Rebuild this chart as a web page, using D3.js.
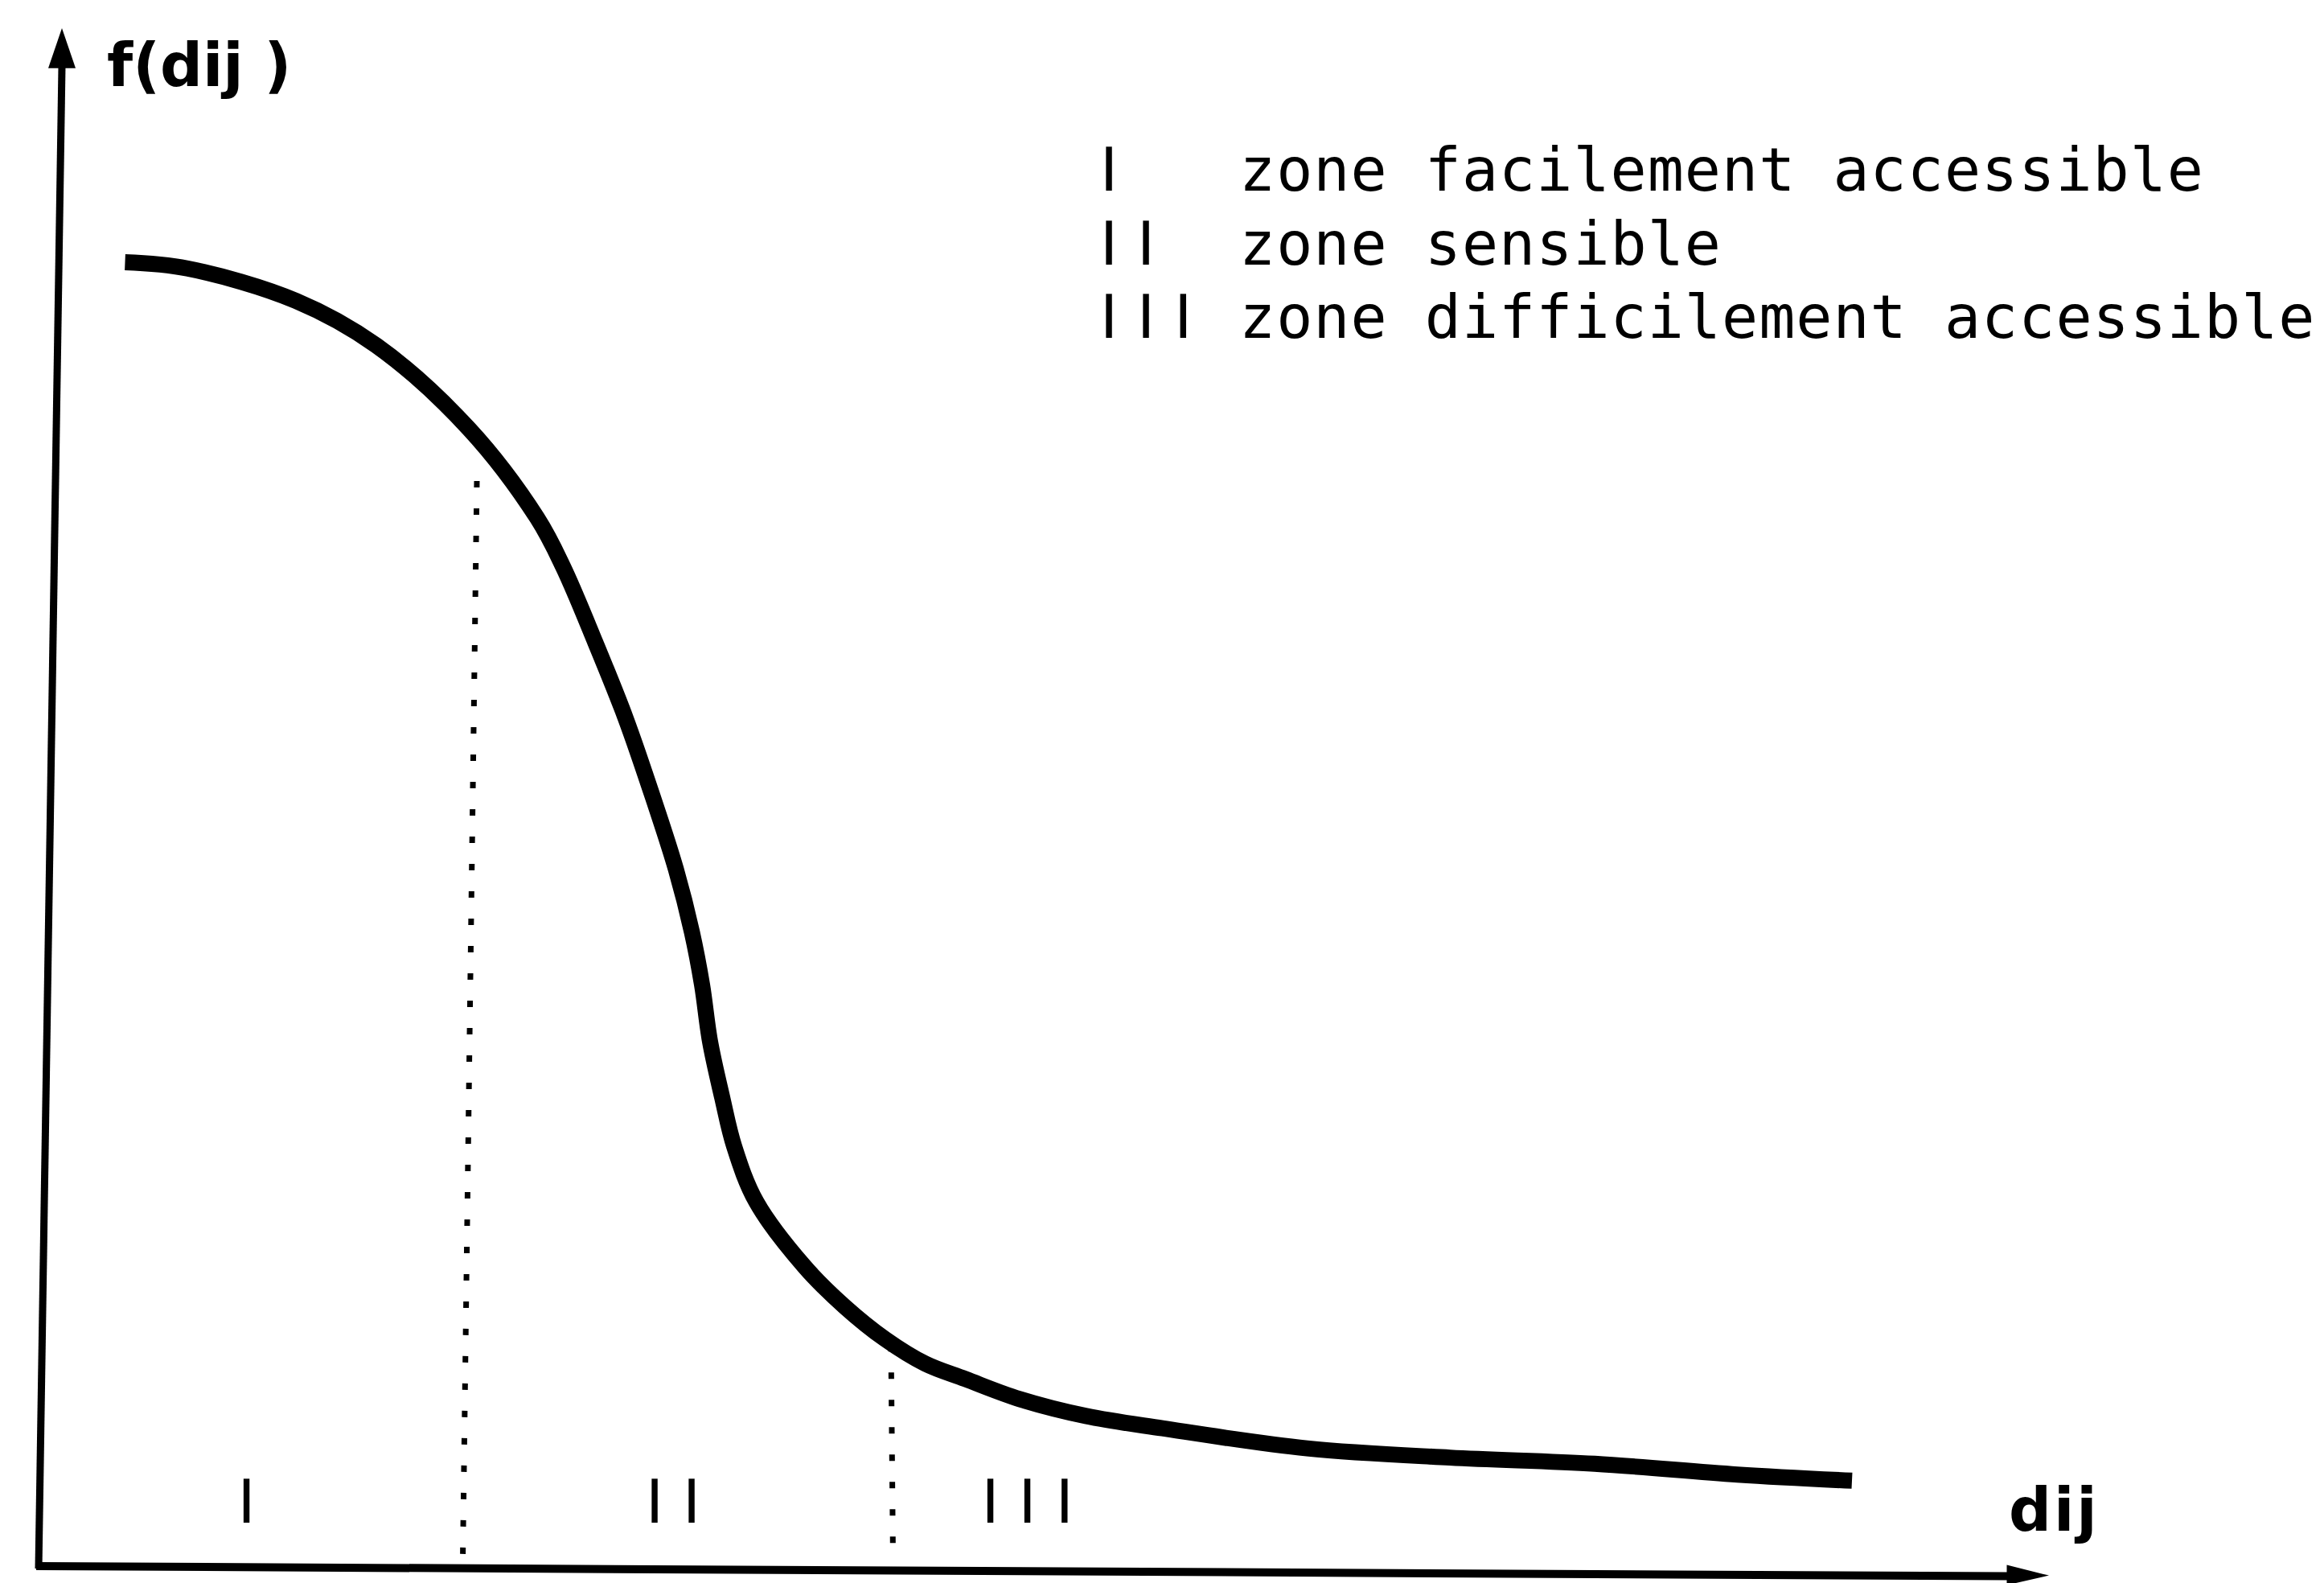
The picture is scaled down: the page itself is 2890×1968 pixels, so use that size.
<!DOCTYPE html>
<html>
<head>
<meta charset="utf-8">
<script src="https://cdn.jsdelivr.net/npm/d3@7"></script>
<style>
    body { margin: 0; background: #fff; }
    svg { display: block; }
</style>
</head>
<body>
<svg id="chart"></svg>
<script>
const width = 2890;
const height = 1968;

// curve f(dij) (dij 0..100, f 0..100)
const dij  = [4.3, 7.4, 12.8, 16.8, 21.4, 24.8, 26.1, 27.7, 29.2, 30.6, 31.7, 32.5, 33.0, 33.4, 34.0, 34.6, 35.7, 38.1, 40.1, 42.1, 44.1, 46.1, 48.8, 52.1, 55.9, 63.1, 70.2, 77.4, 84.5, 90.2];
const fdij = [84.8, 84.4, 82.3, 79.4, 74.0, 68.2, 65.0, 60.1, 55.2, 49.9, 45.4, 41.3, 37.9, 34.2, 30.6, 27.4, 23.8, 19.6, 17.0, 14.9, 13.3, 12.3, 11.0, 9.9, 9.1, 7.8, 7.2, 6.8, 6.1, 5.7];

// dotted zone limits
const limitTop    = [21.8, 42.4];
const limitBottom = [21.1, 42.5];
const limitF      = [70.6, 14.5];

// zone numbers under the curve
const zoneLabels = ["I", "II", "III"];
const zoneLabelDij = [9.9, 30.2, 46.9];

// legend
const legendKeys = ["I", "II", "III"];
const legendTexts = ["zone facilement accessible", "zone sensible", "zone difficilement accessible"];

const svg = d3.select("#chart")
    .attr("width", width)
    .attr("height", height);

svg.append("rect").attr("width", width).attr("height", height).attr("fill", "#fff");

const x = d3.scaleLinear().domain([0, 100]).range([48, 2548]);
const y = d3.scaleLinear().domain([0, 100]).range([1950, 35]);

// axes (hand drawn look: slightly leaning)
svg.append("line")
    .attr("x1", x(0)).attr("y1", y(0))
    .attr("x2", x(1.16)).attr("y2", y(97.5))
    .attr("stroke", "#000").attr("stroke-width", 9);

svg.append("path")
    .attr("d", `M${x(1.16)},${y(100)} L${x(1.16) + 17},${y(97.4)} L${x(1.16) - 17},${y(97.4)} Z`)
    .attr("fill", "#000");

svg.append("line")
    .attr("x1", x(0) - 3).attr("y1", y(0) - 3)
    .attr("x2", x(98)).attr("y2", y(-0.5))
    .attr("stroke", "#000").attr("stroke-width", 10);

svg.append("path")
    .attr("d", `M${x(100)},${y(-0.45)} L${x(97.9)},${y(-0.45) - 13} L${x(97.9)},${y(-0.45) + 12} Z`)
    .attr("fill", "#000");

// axis titles
svg.append("text")
    .attr("x", 133).attr("y", 107)
    .attr("font-family", "DejaVu Sans")
    .attr("font-weight", "bold")
    .attr("font-size", 74)
    .text("f(dij )");

svg.append("text")
    .attr("x", 2498).attr("y", 1903)
    .attr("font-family", "DejaVu Sans")
    .attr("font-weight", "bold")
    .attr("font-size", 74)
    .attr("letter-spacing", 3)
    .text("dij");

// dotted limits
limitTop.forEach((d, i) => {
    svg.append("line")
        .attr("x1", x(d)).attr("y1", y(limitF[i]))
        .attr("x2", x(limitBottom[i])).attr("y2", y(0.6))
        .attr("stroke", "#000")
        .attr("stroke-width", 7)
        .attr("stroke-dasharray", "8 26");
});

// curve
const line = d3.line()
    .x(d => x(d))
    .y((d, i) => y(fdij[i]))
    .curve(d3.curveCatmullRom.alpha(0.5));

svg.append("path")
    .attr("d", line(dij))
    .attr("fill", "none")
    .attr("stroke", "#000")
    .attr("stroke-width", 20)
    .attr("stroke-linecap", "butt")
    .attr("stroke-linejoin", "round");

// zone numbers
svg.selectAll(".zone")
    .data(zoneLabels)
    .enter()
    .append("text")
    .attr("class", "zone")
    .attr("x", (d, i) => x(zoneLabelDij[i]))
    .attr("y", 1893)
    .attr("font-family", "DejaVu Sans")
    .attr("font-size", 75)
    .attr("letter-spacing", 24)
    .text(d => d);

// legend
const legend = svg.append("g");
legendKeys.forEach((k, i) => {
    const by = 237 + i * 91.5;
    legend.append("text")
        .attr("x", 1368).attr("y", by)
        .attr("font-family", "DejaVu Sans")
        .attr("font-size", 75)
        .attr("letter-spacing", 24)
        .text(k);
    legend.append("text")
        .attr("x", 1541).attr("y", by)
        .attr("font-family", "DejaVu Sans Mono")
        .attr("font-size", 75)
        .attr("letter-spacing", 1)
        .text(legendTexts[i]);
});
</script>
</body>
</html>
